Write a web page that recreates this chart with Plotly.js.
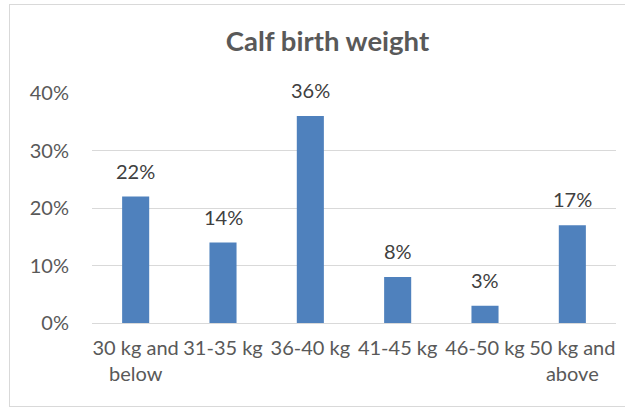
<!DOCTYPE html>
<html>
<head>
<meta charset="utf-8">
<script src="https://cdn.plot.ly/plotly-3.0.1.min.js"></script>
<style>
html,body{margin:0;padding:0;background:#fff;}
#wrap{position:relative;width:625px;height:407px;}
#chart{position:absolute;left:0;top:0;width:625px;height:407px;}
#frame{position:absolute;left:9px;top:4px;width:616px;height:401px;border:1px solid #d9d9d9;pointer-events:none;}
</style>
</head>
<body>
<div id="wrap"><div id="chart"></div><div id="frame"></div></div>
<script>
const categories = ["30 kg and<br>below", "31-35 kg", "36-40 kg", "41-45 kg", "46-50 kg", "50 kg and<br>above"];
const shares = [0.22, 0.14, 0.36, 0.08, 0.03, 0.17];
const labels = ["22%", "14%", "36%", "8%", "3%", "17%"];
const yTicks = [0, 0.1, 0.2, 0.3, 0.4];
const yTickText = ["0%", "10%", "20%", "30%", "40%"];

const FONT = "Lato, 'Open Sans', sans-serif";

const trace = {
  type: "bar",
  x: categories,
  y: shares,
  marker: {color: "#4F81BD"},
  hoverinfo: "skip"
};

const annotations = categories.map((c, i) => ({
  x: c, y: shares[i], xref: "x", yref: "y",
  text: labels[i], showarrow: false,
  yanchor: "bottom", yshift: 12,
  font: {family: FONT, size: 20, color: "#404040"}
}));

const layout = {
  width: 625, height: 407,
  margin: {l: 92, r: 9, t: 93, b: 84},
  paper_bgcolor: "rgba(0,0,0,0)",
  plot_bgcolor: "#fff",
  showlegend: false,
  bargap: 0.69,
  title: {
    text: "<b>Calf birth weight</b>",
    font: {family: FONT, size: 27.5, color: "#595959"},
    xref: "container", x: 0.524, xanchor: "center",
    yref: "container", y: 0.898, yanchor: "middle"
  },
  xaxis: {
    type: "category",
    showgrid: false, zeroline: false,
    showline: true, linecolor: "#d9d9d9", linewidth: 1,
    ticks: "", tickfont: {family: FONT, size: 20, color: "#595959"},
    ticklabelstandoff: 7
  },
  yaxis: {
    range: [0, 0.4],
    tickvals: yTicks, ticktext: yTickText,
    showgrid: true, gridcolor: "#d9d9d9", gridwidth: 1,
    zeroline: false, showline: false, ticks: "",
    tickfont: {family: FONT, size: 20, color: "#595959"},
    ticklabelstandoff: 22
  },
  annotations: annotations
};

Plotly.newPlot("chart", [trace], layout, {displayModeBar: false, staticPlot: true});
</script>
</body>
</html>
